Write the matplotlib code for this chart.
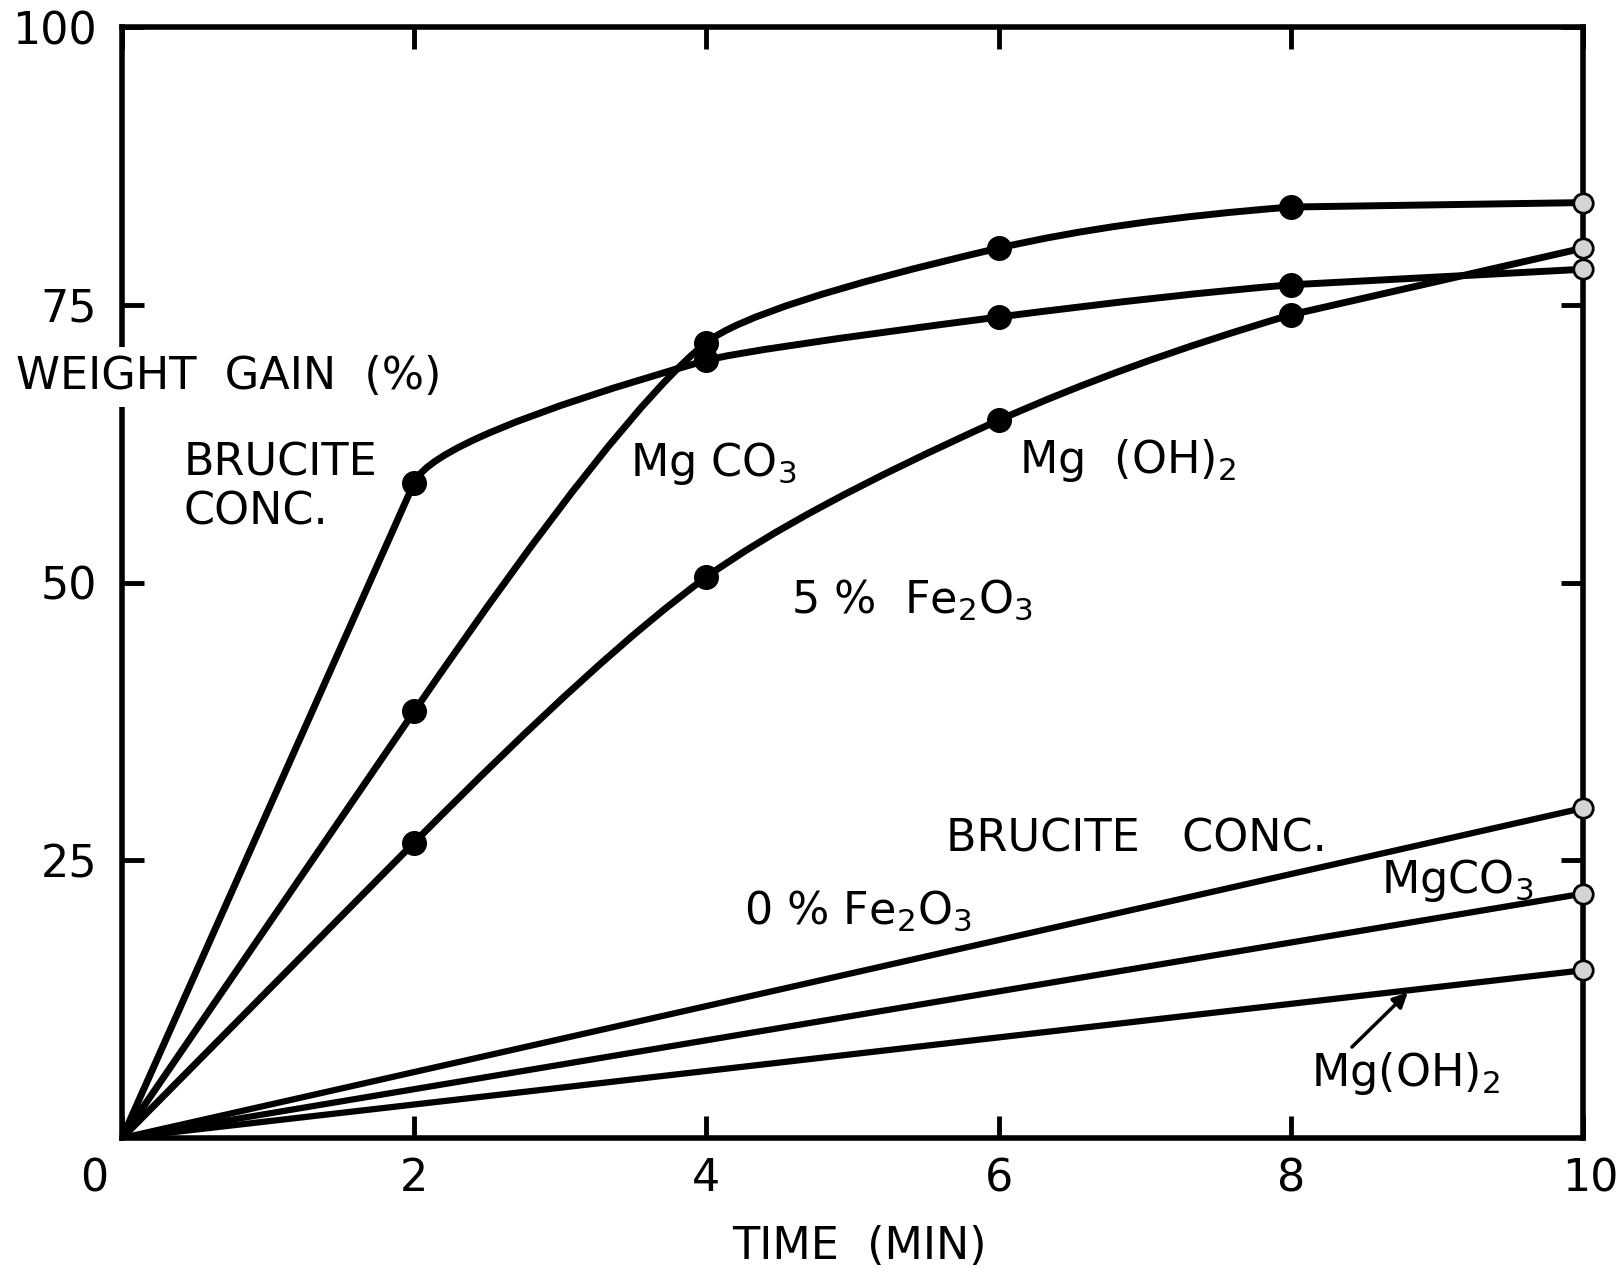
import numpy as np
import matplotlib
matplotlib.use("Agg")
import matplotlib.pyplot as plt
from matplotlib.path import Path
from matplotlib.patches import PathPatch
from matplotlib.transforms import ScaledTranslation

plt.rcParams['font.family'] = ['DejaVu Sans']
plt.rcParams['mathtext.default'] = 'regular'

# time (min) and weight gain (%)
time_5 = [0, 2, 4, 6, 8, 10]
brucite_5 = [0, 59.0, 70.0, 73.9, 76.8, 78.2]
mgco3_5 = [0, 38.4, 71.6, 80.1, 83.8, 84.2]
mgoh2_5 = [0, 26.6, 50.5, 64.6, 74.1, 80.1]

time_0 = [0, 10]
brucite_0 = [0, 29.7]
mgco3_0 = [0, 22.0]
mgoh2_0 = [0, 15.1]

x_ticks = [0, 2, 4, 6, 8, 10]
y_ticks = [25, 50, 75, 100]

FS = 32


def smooth_path(xs, ys):
    # straight from the origin to the first reading, then quadratic pieces
    # with the control point where the end tangents meet
    xs = np.asarray(xs, float)
    ys = np.asarray(ys, float)
    n = len(xs)
    slopes = np.zeros(n)
    slopes[1] = (ys[1] - ys[0]) / (xs[1] - xs[0])
    for i in range(2, n - 1):
        slopes[i] = (ys[i + 1] - ys[i - 1]) / (xs[i + 1] - xs[i - 1])
    slopes[-1] = (ys[-1] - ys[-2]) / (xs[-1] - xs[-2])
    verts = [(xs[0], ys[0]), (xs[1], ys[1])]
    codes = [Path.MOVETO, Path.LINETO]
    for i in range(1, n - 1):
        x0, y0, x1, y1 = xs[i], ys[i], xs[i + 1], ys[i + 1]
        m0, m1 = slopes[i], slopes[i + 1]
        cx = None
        if abs(m0 - m1) > 1e-9:
            cx = (y1 - y0 + m0 * x0 - m1 * x1) / (m0 - m1)
        if cx is not None and x0 + 1e-6 < cx < x1 - 1e-6:
            cy = y0 + m0 * (cx - x0)
            verts += [(cx, cy), (x1, y1)]
            codes += [Path.CURVE3, Path.CURVE3]
        else:
            verts.append((x1, y1))
            codes.append(Path.LINETO)
    return Path(verts, codes)


fig = plt.figure(figsize=(16.22, 12.70), dpi=100)
ax = fig.add_axes([0.0752, 0.1039, 0.9008, 0.8748])
ax.set_xlim(0, 10)
ax.set_ylim(0, 100)

# 5 % Fe2O3 curves
for ys in (brucite_5, mgco3_5, mgoh2_5):
    ax.add_patch(PathPatch(smooth_path(time_5, ys), fill=False, lw=5,
                           edgecolor='black', capstyle='round', zorder=3))
    ax.plot(time_5[1:-1], ys[1:-1], 'o', color='black', ms=17, zorder=4)
    ax.plot(time_5[-1:], ys[-1:], 'o', mfc='#d4d4d4', mec='black', mew=2,
            ms=14, zorder=5, clip_on=False)

# 0 % Fe2O3 lines
for ys in (brucite_0, mgco3_0, mgoh2_0):
    ax.plot(time_0, ys, color='black', lw=4.5, solid_capstyle='round', zorder=3)
    ax.plot(time_0[-1:], ys[-1:], 'o', mfc='#d4d4d4', mec='black', mew=2,
            ms=14, zorder=5, clip_on=False)

# frame and ticks
for sp in ax.spines.values():
    sp.set_linewidth(4)
ax.set_xticks(x_ticks)
ax.set_xticklabels([str(v) for v in x_ticks])
ax.set_yticks(y_ticks)
ax.set_yticklabels([str(v) for v in y_ticks])
ax.tick_params(direction='in', length=16, width=3.5, top=True, right=True,
               labelsize=FS)
ax.tick_params(axis='x', pad=14)
ax.tick_params(axis='y', pad=18)
labels = ax.get_xticklabels()
labels[0].set_transform(labels[0].get_transform()
                        + ScaledTranslation(-20 / 72, 0, fig.dpi_scale_trans))
labels[-1].set_transform(labels[-1].get_transform()
                         + ScaledTranslation(5 / 72, 0, fig.dpi_scale_trans))

# axis titles
ax.text(-0.725, 67.4, 'WEIGHT  GAIN  (%)', fontsize=FS, ha='left',
        va='baseline', clip_on=False, zorder=6,
        bbox=dict(facecolor='white', edgecolor='none', pad=6))
ax.text(5.05, -10.9, 'TIME  (MIN)', fontsize=FS, ha='center', va='baseline',
        clip_on=False)

# curve labels
ax.text(0.42, 59.6, 'BRUCITE', fontsize=FS, va='baseline')
ax.text(0.42, 55.2, 'CONC.', fontsize=FS, va='baseline')
ax.text(3.48, 59.6, 'Mg CO$_3$', fontsize=FS, va='baseline')
ax.text(6.14, 59.9, 'Mg  (OH)$_2$', fontsize=FS, va='baseline')
ax.text(4.58, 47.3, '5 %  Fe$_2$O$_3$', fontsize=FS, va='baseline')
ax.text(5.64, 25.8, 'BRUCITE   CONC.', fontsize=FS, va='baseline')
ax.text(4.26, 19.3, '0 % Fe$_2$O$_3$', fontsize=FS, va='baseline')
ax.text(8.62, 22.1, 'MgCO$_3$', fontsize=FS, va='baseline')
ax.annotate('Mg(OH)$_2$', xy=(8.8, 13.1), xytext=(8.14, 4.7),
            fontsize=FS, va='baseline',
            arrowprops=dict(arrowstyle='-|>', color='black', lw=2.5,
                            mutation_scale=22, shrinkA=0, shrinkB=0,
                            relpos=(0.2, 1.0)))

fig.savefig('out.png', dpi=100, facecolor='white')
